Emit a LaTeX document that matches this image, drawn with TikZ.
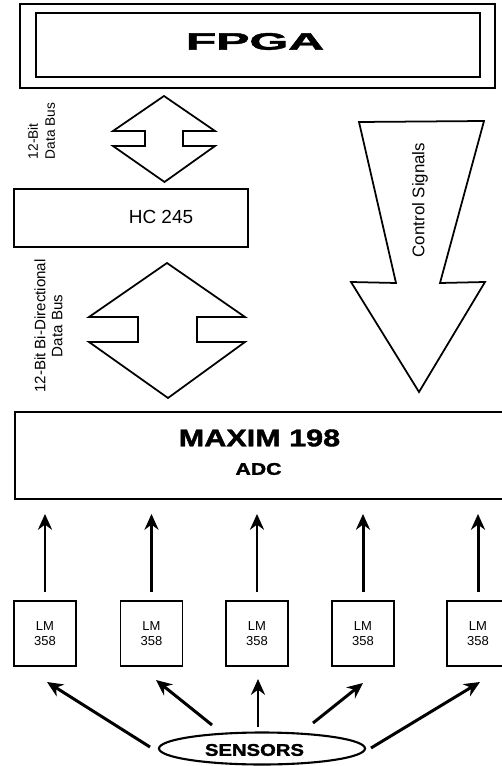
\documentclass[tikz,border=0pt]{standalone}
\usepackage{fontspec}
\setmainfont{Liberation Sans}
\newfontfamily\blackfont[FakeBold=1.6]{Liberation Sans Bold}
\usepackage{tikz}
\usetikzlibrary{arrows.meta,shapes.geometric}
\newcommand{\fsz}[2]{\fontsize{#1}{#2}\selectfont}

\begin{document}
\begin{tikzpicture}[x=0.02cm,y=-0.02cm,
    box/.style={draw,line width=1pt,inner sep=0pt},
    lmbox/.style={box,minimum width=1.24cm,minimum height=1.3cm,align=center,font=\fsz{7.4pt}{8.5pt}},
    blockarrow/.style={draw,line width=1pt,line join=miter},
    arr/.style={line width=1.7pt,-{Stealth[length=9pt,width=8pt]}},
    buslbl/.style={rotate=90,inner sep=0pt},
    heavy/.style={inner sep=0pt,font=\blackfont}]
  \useasboundingbox (0,0) rectangle (502,766);
  \clip (0,0) rectangle (502,766);
  \node[box,minimum width=9.5cm,minimum height=1.68cm] (fpgaout) at (257.5,46) {};
  \node[box,minimum width=8.88cm,minimum height=1.28cm] (fpga) at (258,45) {};
  \node[heavy] (fpgatxt) at (255,41.5) {\fsz{13.5pt}{16pt}\scalebox{2.1}[1]{FPGA}};
  \draw[blockarrow] (164,96) -- (215,131) -- (183,131) -- (183,146) -- (215,146) -- (164.5,182)
    -- (113,146) -- (145,146) -- (145,131) -- (113,131) -- cycle;
  \node[buslbl,align=left,font=\fsz{7.8pt}{9.6pt}] (buslbla) at (41.5,131) {12-Bit\\Data Bus};
  \node[box,minimum width=4.68cm,minimum height=1.16cm] (hc) at (131,218) {};
  \node[inner sep=0pt,font=\fsz{10.8pt}{12pt}] (hctxt) at (161,217) {HC 245};
  \draw[blockarrow] (167,263) -- (245,317) -- (197,317) -- (197,342) -- (245,342) -- (168,398)
    -- (89,342) -- (138,342) -- (138,317) -- (89,317) -- cycle;
  \node[buslbl,align=center,font=\fsz{8.6pt}{9.7pt}] (buslblb) at (48.5,326) {12-Bit Bi-Directional\\Data Bus};
  \draw[blockarrow] (359,122) -- (484,121) -- (440,283) -- (485,282) -- (419,392) -- (351,282) -- (396,283) -- cycle;
  \node[buslbl,font=\fsz{9.6pt}{11pt}] (ctrllbl) at (420,200) {Control Signals};
  \node[box,minimum width=9.76cm,minimum height=1.74cm] (adc) at (259,455.5) {};
  \node[heavy] (adctxt) at (259.5,438) {\fsz{13.7pt}{16pt}\scalebox{1.27}[1]{MAXIM 198}};
  \node[heavy] (adcsub) at (258.5,469) {\fsz{9.6pt}{11pt}\scalebox{1.26}[1]{ADC}};
  \foreach \i/\x in {1/45,2/151.5,3/257,4/363,5/478}{
    \node[lmbox] (lm\i) at (\x,633.5) {LM\\358};
    \draw[arr,shorten <=4.5pt,shorten >=8pt] (lm\i.north) -- (lm\i.north |- adc.south);
  }
  \node[draw,ellipse,line width=1.2pt,minimum width=4.12cm,minimum height=0.64cm,inner sep=0pt] (sens) at (262,748.5) {};
  \node[heavy] (senstxt) at (254.5,750) {\fsz{9.6pt}{11pt}\scalebox{1.2}[1]{SENSORS}};
  \foreach \i/\tx/\ty/\hx/\hy in {1/150/747/47/682,2/212/725/156/680,3/258/727/258/679,4/313/723/363/683,5/371/748/480/682}{
    \coordinate (t\i) at (\tx,\ty);
    \coordinate (h\i) at (\hx,\hy);
    \draw[arr] (t\i) -- (h\i);
  }
\end{tikzpicture}
\end{document}
